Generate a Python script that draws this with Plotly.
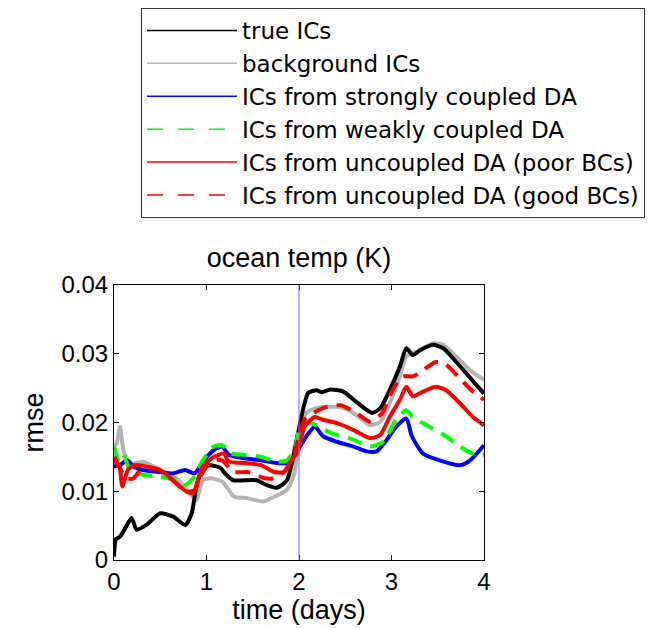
import plotly.graph_objects as go

# ---------------- data ----------------
true_t = [0, 0.02, 0.065, 0.12, 0.19, 0.245, 0.35, 0.50, 0.64, 0.77, 0.84, 0.89, 0.96, 1.04, 1.15, 1.20, 1.29, 1.54, 1.65, 1.76, 1.87, 1.96, 1.99, 2.10, 2.19, 2.245, 2.34, 2.48, 2.62, 2.79, 2.88, 2.98, 3.09, 3.16, 3.23, 3.31, 3.45, 3.56, 3.70, 3.85, 4.0]
true_v = [0.0005, 0.003, 0.0034, 0.0046, 0.0061, 0.0044, 0.0051, 0.0068, 0.0063, 0.0051, 0.0068, 0.0107, 0.0135, 0.0138, 0.0134, 0.0126, 0.0116, 0.0116, 0.0109, 0.0105, 0.0116, 0.0165, 0.0185, 0.0243, 0.0247, 0.0244, 0.0248, 0.0245, 0.023, 0.0214, 0.0221, 0.0247, 0.0281, 0.0308, 0.0298, 0.0305, 0.0313, 0.0308, 0.0288, 0.0265, 0.0242]

bg_t = [0, 0.03, 0.065, 0.11, 0.2, 0.31, 0.50, 0.70, 0.82, 0.89, 0.96, 1.04, 1.17, 1.30, 1.44, 1.62, 1.73, 1.87, 1.95, 2.0, 2.08, 2.19, 2.34, 2.48, 2.62, 2.77, 2.88, 2.98, 3.09, 3.16, 3.27, 3.45, 3.56, 3.70, 3.85, 4.0]
bg_v = [0.0165, 0.017, 0.0194, 0.0155, 0.0140, 0.0143, 0.0131, 0.0116, 0.0097, 0.0087, 0.0116, 0.0119, 0.0114, 0.0092, 0.009, 0.0085, 0.0092, 0.0102, 0.0126, 0.018, 0.0214, 0.0221, 0.0223, 0.0221, 0.0211, 0.0196, 0.0201, 0.0228, 0.0267, 0.0296, 0.0303, 0.0315, 0.0313, 0.0296, 0.0276, 0.0262]

strong_t = [0, 0.065, 0.14, 0.21, 0.31, 0.50, 0.64, 0.77, 0.87, 0.96, 1.08, 1.17, 1.24, 1.41, 1.59, 1.76, 1.89, 1.98, 2.08, 2.17, 2.26, 2.41, 2.59, 2.73, 2.84, 2.95, 3.05, 3.16, 3.22, 3.34, 3.52, 3.74, 3.85, 4.0]
strong_v = [0.0136, 0.0138, 0.0145, 0.0136, 0.0131, 0.0128, 0.0126, 0.0131, 0.0126, 0.0143, 0.016, 0.0165, 0.0153, 0.0148, 0.0145, 0.0141, 0.0141, 0.0158, 0.018, 0.0194, 0.018, 0.0172, 0.0165, 0.0158, 0.0158, 0.0175, 0.0194, 0.0206, 0.018, 0.0155, 0.0145, 0.0138, 0.0145, 0.0167]

weak_t = [0, 0.06, 0.11, 0.17, 0.31, 0.50, 0.68, 0.77, 0.87, 0.96, 1.08, 1.17, 1.26, 1.41, 1.59, 1.76, 1.87, 1.96, 2.0, 2.08, 2.19, 2.34, 2.55, 2.77, 2.91, 3.05, 3.16, 3.23, 3.41, 3.59, 3.74, 3.88, 4.0]
weak_v = [0.0165, 0.0141, 0.015, 0.0131, 0.0124, 0.0121, 0.0116, 0.0109, 0.0121, 0.0145, 0.0165, 0.0167, 0.0155, 0.0153, 0.015, 0.0143, 0.0145, 0.0163, 0.0189, 0.0199, 0.0196, 0.0185, 0.0177, 0.0165, 0.0172, 0.0204, 0.0218, 0.0208, 0.0194, 0.018, 0.0165, 0.0155, 0.0153]

poor_t = [0, 0.06, 0.09, 0.15, 0.22, 0.35, 0.50, 0.64, 0.79, 0.87, 0.96, 1.08, 1.19, 1.24, 1.41, 1.59, 1.73, 1.84, 1.94, 1.98, 2.06, 2.17, 2.26, 2.41, 2.59, 2.77, 2.88, 2.98, 3.09, 3.16, 3.23, 3.34, 3.48, 3.59, 3.74, 3.88, 4.0]
poor_v = [0.015, 0.0136, 0.0107, 0.0131, 0.0138, 0.0136, 0.0131, 0.0116, 0.0099, 0.0102, 0.0136, 0.015, 0.0155, 0.0143, 0.0141, 0.0138, 0.0128, 0.0128, 0.015, 0.0155, 0.0194, 0.0208, 0.0204, 0.0199, 0.0189, 0.0177, 0.0182, 0.0208, 0.0233, 0.0252, 0.0238, 0.0245, 0.0252, 0.0247, 0.0228, 0.0208, 0.0196]

good_t = [0, 0.06, 0.12, 0.2, 0.3, 0.45, 0.6, 0.75, 0.85, 0.95, 1.06, 1.17, 1.29, 1.44, 1.63, 1.74, 1.85, 1.95, 2.06, 2.26, 2.45, 2.62, 2.77, 2.9, 3.01, 3.12, 3.23, 3.34, 3.48, 3.59, 3.74, 3.88, 4.0]
good_v = [0.0145, 0.0135, 0.012, 0.0118, 0.0132, 0.0133, 0.012, 0.0102, 0.0097, 0.0125, 0.0145, 0.0145, 0.0128, 0.0128, 0.0119, 0.0119, 0.013, 0.0155, 0.0204, 0.0221, 0.0225, 0.0214, 0.0201, 0.0214, 0.0247, 0.0267, 0.0267, 0.0276, 0.0288, 0.0284, 0.0264, 0.0245, 0.0233]

x_ticks = [0, 1, 2, 3, 4]
x_ticklabels = ["0", "1", "2", "3", "4"]
y_ticks = [0, 0.01, 0.02, 0.03, 0.04]
y_ticklabels = ["0", "0.01", "0.02", "0.03", "0.04"]
event_day = 2

labels = ["true ICs", "background ICs", "ICs from strongly coupled DA",
          "ICs from weakly coupled DA", "ICs from uncoupled DA (poor BCs)",
          "ICs from uncoupled DA (good BCs)"]

# ---------------- styles ----------------
FONT = "Liberation Sans, Arial, sans-serif"
LEGEND_FONT = "DejaVu Sans, Liberation Sans, sans-serif"
styles = {
    "true ICs": dict(color="#000000", dash="solid"),
    "background ICs": dict(color="#b4b4b4", dash="solid"),
    "ICs from strongly coupled DA": dict(color="#0000ff", dash="solid"),
    "ICs from weakly coupled DA": dict(color="#00ff00", dash="15px,9px"),
    "ICs from uncoupled DA (poor BCs)": dict(color="#ff0000", dash="solid"),
    "ICs from uncoupled DA (good BCs)": dict(color="#ff0000", dash="15px,9px"),
}
series = {
    "true ICs": (true_t, true_v),
    "background ICs": (bg_t, bg_v),
    "ICs from strongly coupled DA": (strong_t, strong_v),
    "ICs from weakly coupled DA": (weak_t, weak_v),
    "ICs from uncoupled DA (poor BCs)": (poor_t, poor_v),
    "ICs from uncoupled DA (good BCs)": (good_t, good_v),
}
draw_order = ["background ICs", "true ICs", "ICs from strongly coupled DA",
              "ICs from weakly coupled DA", "ICs from uncoupled DA (poor BCs)",
              "ICs from uncoupled DA (good BCs)"]

fig = go.Figure()
for name in draw_order:
    t, v = series[name]
    st = styles[name]
    fig.add_trace(go.Scatter(x=t, y=v, mode="lines", name=name, showlegend=False,
                             line=dict(color=st["color"], width=4, dash=st["dash"],
                                       shape="spline", smoothing=0.6)))

# legend-only entries with thin lines
for name in labels:
    st = styles[name]
    legdash = "16px,15px" if st["dash"] != "solid" else "solid"
    fig.add_trace(go.Scatter(x=[None], y=[None], mode="lines", name=name,
                             line=dict(color=st["color"], width=1.5, dash=legdash)))

fig.add_vline(x=event_day, line=dict(color="#7070ff", width=1))

fig.update_layout(
    width=656, height=628,
    margin=dict(l=114, r=172, t=285, b=68, autoexpand=False),
    paper_bgcolor="white", plot_bgcolor="white",
    font=dict(family=FONT, color="#000000", size=23),
    title=dict(text="ocean temp (K)", x=(114 + 484) / 2 / 656, xanchor="center",
               y=1 - 258 / 628, yanchor="middle",
               font=dict(size=27, family=FONT, color="#000000")),
    showlegend=True,
    legend=dict(x=(141 - 114) / 370, xanchor="left", y=(560 - 8) / 275, yanchor="top",
                bordercolor="#333333", borderwidth=1, bgcolor="white",
                font=dict(size=23, family=LEGEND_FONT, color="#000000"),
                tracegroupgap=0, itemwidth=90),
)
fig.update_xaxes(range=[0, 4], tickvals=x_ticks, ticktext=x_ticklabels,
                 ticks="inside", ticklen=5, tickcolor="#000000",
                 showline=True, linecolor="#000000", linewidth=1, mirror="ticks",
                 showgrid=False, zeroline=False, tickfont=dict(size=24),
                 title=dict(text="time (days)", font=dict(size=27), standoff=6))
fig.update_yaxes(range=[0, 0.04], tickvals=y_ticks, ticktext=y_ticklabels,
                 ticks="inside", ticklen=5, tickcolor="#000000",
                 showline=True, linecolor="#000000", linewidth=1, mirror="ticks",
                 showgrid=False, zeroline=False, tickfont=dict(size=24),
                 title=dict(text="rmse", font=dict(size=27), standoff=10))

fig.write_html("out.html")
